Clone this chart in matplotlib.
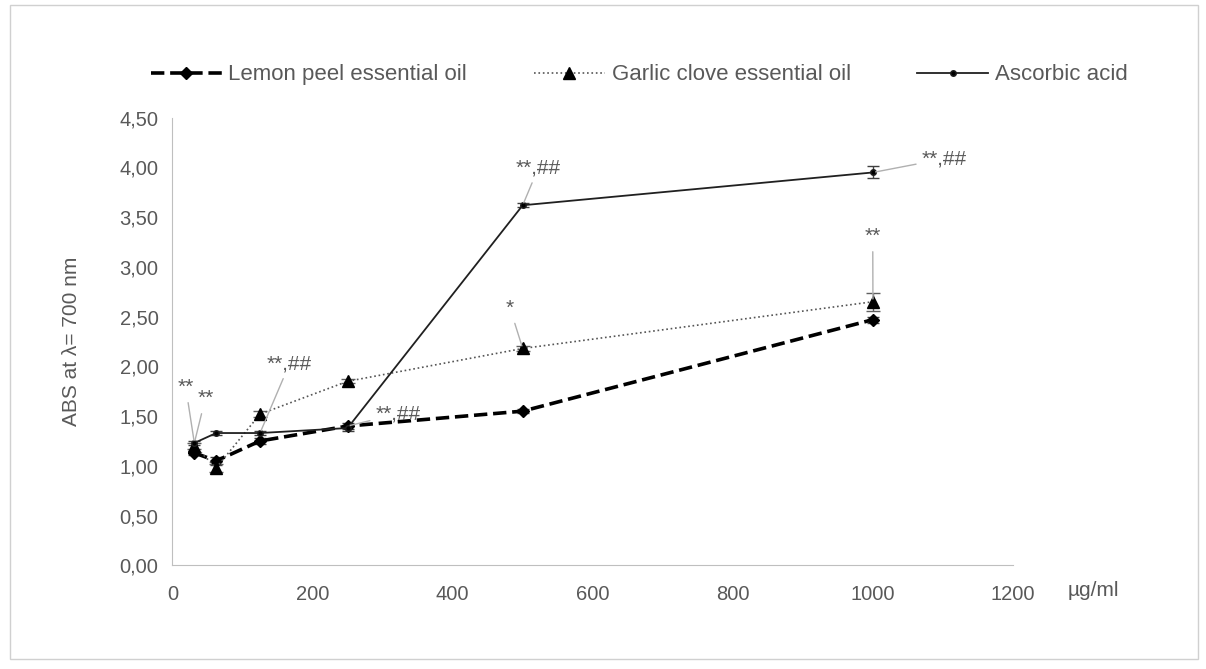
import numpy as np
import matplotlib.pyplot as plt
from matplotlib.lines import Line2D

plt.rcParams['font.family'] = ['Liberation Sans', 'DejaVu Sans']

# concentraciones (ug/ml)
conc = [31.25, 62.5, 125, 250, 500, 1000]

lemon = [1.13, 1.05, 1.25, 1.40, 1.55, 2.47]
lemon_err = [0.02, 0.04, 0.03, 0.03, 0.02, 0.03]
garlic = [1.20, 0.98, 1.52, 1.85, 2.18, 2.65]
garlic_err = [0.03, 0.04, 0.03, 0.02, 0.03, 0.09]
ascorbic = [1.23, 1.33, 1.33, 1.38, 3.62, 3.95]
ascorbic_err = [0.02, 0.02, 0.02, 0.03, 0.02, 0.06]

# (indice del punto, serie, texto, desplazamiento del texto en puntos)
notas = [
    (0, 'ascorbic', '**', (-12, 33)),
    (0, 'ascorbic', '**', (2, 25)),
    (2, 'ascorbic', '**,##', (5, 43)),
    (3, 'lemon', '**,##', (20, 2)),
    (4, 'garlic', '*', (-12, 22)),
    (4, 'ascorbic', '**,##', (-5, 20)),
    (5, 'ascorbic', '**,##', (35, 3)),
    (5, 'garlic', '**', (-6, 40)),
]
series = {'lemon': lemon, 'garlic': garlic, 'ascorbic': ascorbic}

txt = '#595959'
fig = plt.figure(figsize=(12.06, 6.69), dpi=100)
ax = fig.add_axes([0.143, 0.155, 0.697, 0.669])

ax.errorbar(conc, lemon, yerr=lemon_err, color='black', linestyle='--', linewidth=2.6,
            marker='D', markersize=6, capsize=4, elinewidth=1, ecolor='#404040')
ax.errorbar(conc, garlic, yerr=garlic_err, color='#555555', linestyle=':', linewidth=1.2,
            marker='^', markersize=9, markerfacecolor='black', markeredgecolor='black',
            capsize=5, elinewidth=1, ecolor='#606060')
ax.errorbar(conc, ascorbic, yerr=ascorbic_err, color='#202020', linestyle='-', linewidth=1.3,
            marker='o', markersize=4, markerfacecolor='black', capsize=4, elinewidth=1,
            ecolor='#404040')

for i, s, t, off in notas:
    ax.annotate(t, xy=(conc[i], series[s][i]), xytext=off, textcoords='offset points',
                fontsize=15, color=txt, ha='left', va='bottom',
                arrowprops=dict(arrowstyle='-', color='#b0b0b0', lw=1, shrinkA=2, shrinkB=2))

ax.set_xlim(0, 1200)
ax.set_ylim(0, 4.5)
ax.set_xticks(np.arange(0, 1201, 200))
ax.set_yticks(np.arange(0, 4.51, 0.5))
ax.set_yticklabels([f'{v:.2f}'.replace('.', ',') for v in np.arange(0, 4.51, 0.5)])
ax.tick_params(length=0, labelsize=14.5, labelcolor=txt, pad=10)
ax.tick_params(axis='x', pad=14)
for side in ['top', 'right']:
    ax.spines[side].set_visible(False)
for side in ['left', 'bottom']:
    ax.spines[side].set_color('#bfbfbf')
ax.set_ylabel('ABS at λ= 700 nm', fontsize=15, color=txt, labelpad=28)
fig.text(0.885, 0.118, 'µg/ml', fontsize=15, color=txt, va='center')

handles = [
    Line2D([], [], color='black', linestyle='--', linewidth=2.6, marker='D', markersize=6),
    Line2D([], [], color='#555555', linestyle=':', linewidth=1.2, marker='^', markersize=9,
           markerfacecolor='black', markeredgecolor='black'),
    Line2D([], [], color='#202020', linestyle='-', linewidth=1.3, marker='o', markersize=4,
           markerfacecolor='black'),
]
labels = ['Lemon peel essential oil', 'Garlic clove essential oil', 'Ascorbic acid']
ax.legend(handles, labels, loc='center', bbox_to_anchor=(0.53, 0.888),
          bbox_transform=fig.transFigure, ncol=3, frameon=False, fontsize=16,
          labelcolor=txt, handlelength=3.2, columnspacing=3.0, handletextpad=0.3)

# borde exterior
fig.patches.append(plt.Rectangle((0.008, 0.015), 0.985, 0.978, transform=fig.transFigure,
                                 fill=False, edgecolor='#d0d0d0', lw=1))

fig.savefig('out.png', dpi=100)
